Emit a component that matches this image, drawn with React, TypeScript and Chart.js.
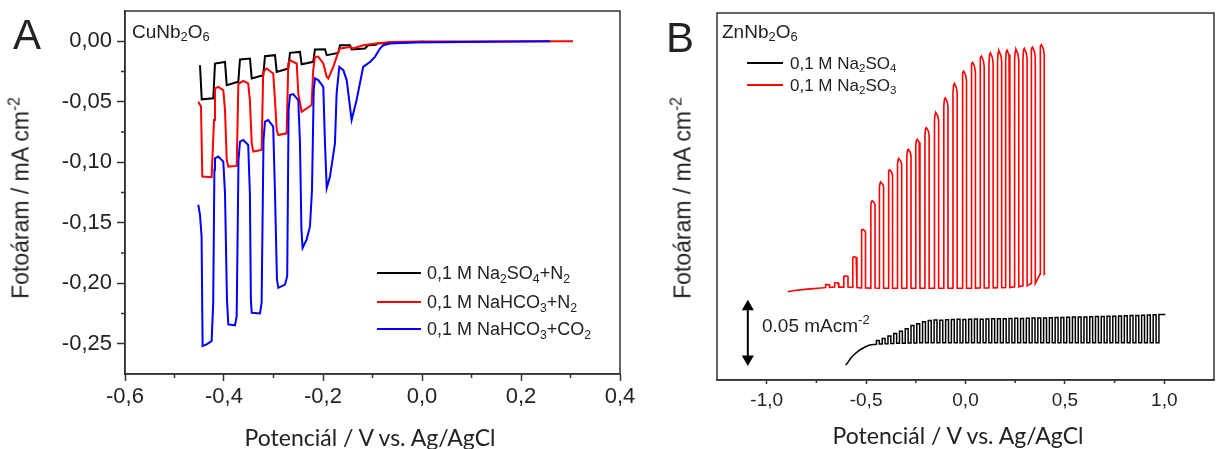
import React, { useEffect, useRef } from "react";
import { Chart, registerables } from "chart.js";
Chart.register(...registerables);

// ---------- Panel A (CuNb2O6) ----------
const cuXTicks = [-0.6, -0.4, -0.2, 0.0, 0.2, 0.4];
const cuXMinor = [-0.5, -0.3, -0.1, 0.1, 0.3];
const cuYTicks = [0.0, -0.05, -0.1, -0.15, -0.2, -0.25];
const cuYMinor = [-0.025, -0.075, -0.125, -0.175, -0.225];

const cuBlackSO4N2: [number, number][] = [
  [-0.4485, -0.0198], [-0.445, -0.048], [-0.4216, -0.0472], [-0.4182, -0.0184], [-0.398, -0.0171],
  [-0.3945, -0.0363], [-0.3711, -0.0335], [-0.3677, -0.0151], [-0.3475, -0.0143], [-0.344, -0.0307],
  [-0.3206, -0.028], [-0.3172, -0.0124], [-0.297, -0.0115], [-0.2935, -0.0253], [-0.2701, -0.0225],
  [-0.2667, -0.0096], [-0.2465, -0.0088], [-0.2432, -0.019], [-0.2198, -0.017], [-0.2162, -0.0068],
  [-0.196, -0.0066], [-0.1925, -0.0115], [-0.1691, -0.0096], [-0.1657, -0.0033], [-0.1455, -0.0033],
  [-0.142, -0.0068], [-0.1152, -0.006], [-0.109, -0.0033], [-0.093, -0.0029], [-0.0889, -0.0016],
  [-0.0687, -0.0016], [-0.0646, -0.0008], [-0.0242, -0.0008], [0.004, -0.0004],
];

const cuRedHCO3N2: [number, number][] = [
  [-0.452, -0.05], [-0.4465, -0.054], [-0.4438, -0.1118], [-0.425, -0.1123], [-0.4202, -0.065],
  [-0.4182, -0.039], [-0.4115, -0.0377], [-0.4014, -0.0404], [-0.398, -0.0569], [-0.3945, -0.098],
  [-0.3913, -0.1036], [-0.3743, -0.103], [-0.371, -0.0354], [-0.3677, -0.0344], [-0.3611, -0.0327],
  [-0.3511, -0.0349], [-0.3477, -0.0486], [-0.344, -0.0843], [-0.3408, -0.0912], [-0.324, -0.0898],
  [-0.3208, -0.0253], [-0.3139, -0.0225], [-0.3006, -0.0266], [-0.297, -0.0486], [-0.2935, -0.0733],
  [-0.2903, -0.0775], [-0.2735, -0.0761], [-0.2701, -0.0184], [-0.2667, -0.0157], [-0.2531, -0.0184],
  [-0.2499, -0.0431], [-0.2432, -0.0583], [-0.223, -0.0527], [-0.2198, -0.0239], [-0.2162, -0.0129],
  [-0.2095, -0.0129], [-0.1994, -0.0184], [-0.1925, -0.0294], [-0.1893, -0.0307], [-0.1792, -0.0212],
  [-0.1691, -0.0088], [-0.1657, -0.006], [-0.1455, -0.0047], [-0.1394, -0.006], [-0.1186, -0.0033],
  [-0.0915, -0.0019], [-0.0646, -0.0006], [-0.004, -0.0002], [0.305, 0.0],
];

const cuBlueHCO3CO2: [number, number][] = [
  [-0.452, -0.1351], [-0.4485, -0.1434], [-0.4453, -0.1613], [-0.4432, -0.2519], [-0.4352, -0.2505],
  [-0.425, -0.2478], [-0.4218, -0.2161], [-0.4194, -0.1063], [-0.4182, -0.0967], [-0.4115, -0.0953],
  [-0.4014, -0.0995], [-0.398, -0.1255], [-0.394, -0.2134], [-0.3913, -0.234], [-0.3778, -0.2348],
  [-0.3744, -0.2272], [-0.3707, -0.098], [-0.3677, -0.083], [-0.3611, -0.0816], [-0.3511, -0.0857],
  [-0.3477, -0.1255], [-0.3457, -0.2134], [-0.344, -0.2244], [-0.3273, -0.225], [-0.324, -0.2161],
  [-0.3202, -0.0816], [-0.3172, -0.0665], [-0.3107, -0.0651], [-0.3006, -0.0706], [-0.297, -0.1255],
  [-0.293, -0.1969], [-0.2903, -0.2038], [-0.2768, -0.2011], [-0.2723, -0.1942], [-0.2695, -0.0569],
  [-0.2667, -0.0445], [-0.2602, -0.0437], [-0.2499, -0.0486], [-0.2465, -0.0843], [-0.2436, -0.1557],
  [-0.2412, -0.1708], [-0.2331, -0.1639], [-0.2263, -0.153], [-0.2222, -0.1228], [-0.2188, -0.0404],
  [-0.2162, -0.0307], [-0.2095, -0.0321], [-0.1994, -0.0377], [-0.196, -0.0843], [-0.1925, -0.1214],
  [-0.1859, -0.1118], [-0.1758, -0.0843], [-0.1725, -0.0431], [-0.1671, -0.0212], [-0.159, -0.0239],
  [-0.1521, -0.0321], [-0.1422, -0.0651], [-0.1321, -0.0486], [-0.1188, -0.0212], [-0.1051, -0.0171],
  [-0.0951, -0.0129], [-0.0849, -0.006], [-0.0782, -0.0033], [-0.0646, -0.0019], [-0.0182, -0.0011],
  [0.0828, -0.0006], [0.2586, 0.0],
];

// ---------- Panel B (ZnNb2O6) ----------
const znXTicks = [-1.0, -0.5, 0.0, 0.5, 1.0];
const znXMinor = [-0.75, -0.25, 0.25, 0.75];

const znRedLead: [number, number][] = [
  [-0.894, 0.0688], [-0.86, 0.0697], [-0.82, 0.0705], [-0.78, 0.0711], [-0.74, 0.0716], [-0.715, 0.072],
];
const znRedOn = [
  -0.705, -0.658, -0.612, -0.567, -0.524, -0.476, -0.433, -0.388, -0.342, -0.295, -0.25, -0.204, -0.156,
  -0.109, -0.063, -0.016, 0.029, 0.073, 0.118, 0.161, 0.202, 0.247, 0.289, 0.33, 0.375,
];
const znRedTop = [
  0.0745, 0.076, 0.0814, 0.097, 0.119, 0.142, 0.157, 0.167, 0.176, 0.1835, 0.1916, 0.201, 0.213, 0.225,
  0.2367, 0.2466, 0.2536, 0.2587, 0.2614, 0.263, 0.2636, 0.264, 0.265, 0.266, 0.268,
];
const znRedBase = [
  0.0722, 0.0725, 0.0725, 0.0722, 0.0718, 0.0717, 0.0716, 0.0716, 0.0716, 0.0716, 0.0716, 0.0716, 0.0716,
  0.0716, 0.0716, 0.0716, 0.0717, 0.0718, 0.0719, 0.072, 0.0722, 0.0727, 0.0735, 0.0755, 0.083,
];
const znRedPulseWidth = 0.021;
const znRedTail: [number, number][] = [[0.401, 0.084]];

const znBlackLead: [number, number][] = [
  [-0.603, 0.0097], [-0.595, 0.011], [-0.577, 0.0153], [-0.553, 0.0191], [-0.532, 0.0218],
  [-0.503, 0.0244], [-0.482, 0.0258], [-0.462, 0.0262],
];
const znBlackOn = [
  -0.448, -0.419, -0.39, -0.361, -0.332, -0.303, -0.274, -0.245, -0.216, -0.187, -0.158, -0.129, -0.1,
  -0.071, -0.042, -0.013, 0.016, 0.045, 0.074, 0.103, 0.132, 0.161, 0.19, 0.219, 0.248, 0.277, 0.306,
  0.335, 0.364, 0.393, 0.422, 0.451, 0.48, 0.509, 0.538, 0.567, 0.596, 0.625, 0.654, 0.683, 0.712, 0.741,
  0.77, 0.799, 0.828, 0.857, 0.886, 0.915, 0.944, 0.973,
];
const znBlackTop = [
  0.0295, 0.031, 0.033, 0.035, 0.037, 0.039, 0.0415, 0.043, 0.0445, 0.0455, 0.046, 0.0458, 0.0462, 0.0463,
  0.0465, 0.0464, 0.0466, 0.0467, 0.0466, 0.0468, 0.0469, 0.047, 0.0469, 0.0471, 0.0473, 0.0472, 0.0474,
  0.0475, 0.0476, 0.0476, 0.0478, 0.0479, 0.048, 0.0481, 0.0483, 0.0483, 0.0484, 0.0486, 0.0487, 0.0488,
  0.049, 0.0491, 0.0493, 0.0494, 0.0496, 0.0497, 0.0499, 0.05, 0.0502, 0.0504,
];
const znBlackBase = [
  0.0264, 0.0266, 0.0268, 0.027, 0.0272, 0.0273, 0.0274, 0.0275, 0.0276, 0.0276, 0.0277, 0.0277, 0.0277,
  0.0277, 0.0277, 0.0277, 0.0277, 0.0277, 0.0277, 0.0277, 0.0277, 0.0277, 0.0277, 0.0277, 0.0277, 0.0277,
  0.0277, 0.0277, 0.0277, 0.0277, 0.0277, 0.0277, 0.0277, 0.0277, 0.0277, 0.0277, 0.0277, 0.0277, 0.0277,
  0.0277, 0.0277, 0.0277, 0.0277, 0.0277, 0.0277, 0.0277, 0.0277, 0.0277, 0.0277, 0.0277,
];
const znBlackPulseWidth = 0.0145;
const znBlackTail: [number, number][] = [[1.005, 0.0504]];

const scaleBarX = [-1.095, -1.095];
const scaleBarY = [0.0145, 0.0567];

// ---------- helpers ----------
const SANS = "'Liberation Sans', Arial, sans-serif";
const TITLE = "Lato, 'Open Sans', sans-serif";
const AXIS = "#333";

const toPts = (arr: [number, number][]) => arr.map(([x, y]) => ({ x, y }));

function redTeeth() {
  const pts = toPts(znRedLead);
  znRedOn.forEach((on, i) => {
    const b = znRedBase[i];
    const t = znRedTop[i];
    const h = t - b;
    const w = znRedPulseWidth;
    pts.push(
      { x: on, y: b },
      { x: on, y: b + 0.955 * h },
      { x: on + 0.003, y: b + 0.993 * h },
      { x: on + 0.007, y: t },
      { x: on + w - 0.004, y: t - 0.02 * h },
      { x: on + w, y: t - 0.045 * h },
      { x: on + w, y: b },
    );
  });
  return pts.concat(toPts(znRedTail));
}

function blackTeeth() {
  const pts = toPts(znBlackLead);
  const last = znBlackOn.length - 1;
  znBlackOn.forEach((on, i) => {
    const b = znBlackBase[i];
    const t = znBlackTop[i];
    pts.push({ x: on, y: b }, { x: on, y: t });
    if (i < last) pts.push({ x: on + znBlackPulseWidth, y: t }, { x: on + znBlackPulseWidth, y: znBlackBase[i + 1] });
  });
  return pts.concat(toPts(znBlackTail));
}

const fmt = (v: number, d: number) => {
  const s = Math.abs(v) < 1e-9 ? (0).toFixed(d) : v.toFixed(d);
  return s.replace(".", ",");
};

const framePlugin = (minorX: number[], minorY: number[], len: number) => ({
  id: "frameMinor",
  afterDraw(chart: any) {
    const { ctx, chartArea: a, scales } = chart;
    ctx.save();
    ctx.strokeStyle = AXIS;
    ctx.lineWidth = 1.5;
    ctx.strokeRect(a.left, a.top, a.right - a.left, a.bottom - a.top);
    ctx.beginPath();
    for (const v of minorX) {
      const p = scales.x.getPixelForValue(v);
      ctx.moveTo(p, a.bottom);
      ctx.lineTo(p, a.bottom + len);
    }
    for (const v of minorY) {
      const p = scales.y.getPixelForValue(v);
      ctx.moveTo(a.left, p);
      ctx.lineTo(a.left - len, p);
    }
    ctx.stroke();
    ctx.restore();
  },
});

const line = (data: any[], color: string, width: number) => ({
  data,
  showLine: true,
  borderColor: color,
  backgroundColor: color,
  borderWidth: width,
  pointRadius: 0,
  tension: 0,
  fill: false,
});

function configA(): any {
  return {
    type: "scatter",
    data: {
      datasets: [
        line(toPts(cuBlueHCO3CO2), "#0000ff", 2),
        line(toPts(cuRedHCO3N2), "#ff0000", 2),
        line(toPts(cuBlackSO4N2), "#000000", 2),
      ],
    },
    options: {
      animation: false,
      responsive: false,
      devicePixelRatio: 1,
      layout: { padding: { left: 0, top: 11, right: 40, bottom: 0 } },
      plugins: { legend: { display: false }, tooltip: { enabled: false } },
      scales: {
        x: {
          type: "linear",
          min: -0.6,
          max: 0.4,
          afterBuildTicks: (s: any) => { s.ticks = cuXTicks.map((v) => ({ value: v })); },
          afterFit: (s: any) => { s.height = 75; s.paddingLeft = 0; s.paddingRight = 0; },
          ticks: { callback: (v: number) => fmt(v, 1), font: { family: SANS, size: 22 }, color: "#222", padding: 3, maxRotation: 0, autoSkip: false },
          grid: { drawOnChartArea: false, drawTicks: true, tickLength: 7, tickWidth: 1.5, tickColor: AXIS },
          border: { display: true, color: AXIS, width: 1.5 },
        },
        y: {
          type: "linear",
          min: -0.275,
          max: 0.025,
          afterBuildTicks: (s: any) => { s.ticks = cuYTicks.map((v) => ({ value: v })); },
          afterFit: (s: any) => { s.width = 125; s.paddingTop = 0; s.paddingBottom = 0; },
          ticks: { callback: (v: number) => fmt(v, 2), font: { family: SANS, size: 22 }, color: "#222", padding: 5, autoSkip: false },
          grid: { drawOnChartArea: false, drawTicks: true, tickLength: 8, tickWidth: 1.5, tickColor: AXIS },
          border: { display: true, color: AXIS, width: 1.5 },
        },
      },
    },
    plugins: [framePlugin(cuXMinor, cuYMinor, 4)],
  };
}

function configB(): any {
  return {
    type: "scatter",
    data: {
      datasets: [
        line(redTeeth(), "#ff0000", 1.6),
        line(blackTeeth(), "#000000", 1.5),
        {
          data: scaleBarX.map((x, i) => ({ x, y: scaleBarY[i] })),
          showLine: true,
          borderColor: "#000",
          backgroundColor: "#000",
          borderWidth: 2,
          pointStyle: "triangle",
          pointRadius: 5,
          rotation: [180, 0],
        },
      ],
    },
    options: {
      animation: false,
      responsive: false,
      devicePixelRatio: 1,
      layout: { padding: { left: 77, top: 13, right: 2, bottom: 0 } },
      plugins: { legend: { display: false }, tooltip: { enabled: false } },
      scales: {
        x: {
          type: "linear",
          min: -1.25,
          max: 1.25,
          afterBuildTicks: (s: any) => { s.ticks = znXTicks.map((v) => ({ value: v })); },
          afterFit: (s: any) => { s.height = 69; s.paddingLeft = 0; s.paddingRight = 0; },
          ticks: { callback: (v: number) => fmt(v, 1), font: { family: SANS, size: 19 }, color: "#222", padding: 5, maxRotation: 0, autoSkip: false },
          grid: { drawOnChartArea: false, drawTicks: true, tickLength: 4, tickWidth: 1.5, tickColor: AXIS },
          border: { display: true, color: AXIS, width: 1.5 },
        },
        y: { type: "linear", min: -0.0024, max: 0.2935, display: false },
      },
    },
    plugins: [framePlugin(znXMinor, [], 3)],
  };
}

const sub = (t: string) => <sub style={{ fontSize: "0.68em", verticalAlign: "-0.3em", lineHeight: 0 }}>{t}</sub>;
const sup = (t: string) => <sup style={{ fontSize: "0.68em", verticalAlign: "0.55em", lineHeight: 0 }}>{t}</sup>;

function Txt(props: { x: number; y: number; size: number; font?: string; children: any; center?: boolean; rotate?: boolean }) {
  const { x, y, size, font, children, center, rotate } = props;
  let transform = "translateY(-50%)";
  if (center) transform = "translate(-50%, -50%)";
  if (rotate) transform = "translate(-50%, -50%) rotate(-90deg)";
  return (
    <div style={{ position: "absolute", left: x, top: y, fontSize: size, fontFamily: font || SANS, lineHeight: 1, whiteSpace: "nowrap", transform, color: "#222" }}>
      {children}
    </div>
  );
}

function LegendLine(props: { x: number; y: number; w: number; color: string; h: number }) {
  return <div style={{ position: "absolute", left: props.x, top: props.y - props.h / 2, width: props.w, height: props.h, background: props.color }} />;
}

export default function App() {
  const refA = useRef<HTMLCanvasElement>(null);
  const refB = useRef<HTMLCanvasElement>(null);
  useEffect(() => {
    const a = new Chart(refA.current as HTMLCanvasElement, configA());
    const b = new Chart(refB.current as HTMLCanvasElement, configB());
    return () => {
      a.destroy();
      b.destroy();
    };
  }, []);
  return (
    <div style={{ position: "fixed", left: 0, top: 0, width: 1221, height: 449, background: "#fff", overflow: "hidden" }}>
      <canvas ref={refA} width={660} height={449} style={{ position: "absolute", left: 0, top: 0, width: 660, height: 449 }} />
      <canvas ref={refB} width={581} height={449} style={{ position: "absolute", left: 640, top: 0, width: 581, height: 449 }} />

      {/* Panel A texts */}
      <Txt x={13} y={35} size={42}>A</Txt>
      <Txt x={132} y={31} size={19}>CuNb{sub("2")}O{sub("6")}</Txt>
      <Txt x={21} y={198} size={23} rotate>Fotoáram / mA cm{sup("-2")}</Txt>
      <Txt x={370} y={437} size={23} font={TITLE} center>Potenciál / V vs. Ag/AgCl</Txt>
      <LegendLine x={377} y={273} w={44} h={2} color="#000" />
      <LegendLine x={377} y={302} w={44} h={2} color="#ff0000" />
      <LegendLine x={377} y={329} w={44} h={2} color="#0000ff" />
      <Txt x={427} y={273} size={18}>0,1 M Na{sub("2")}SO{sub("4")}+N{sub("2")}</Txt>
      <Txt x={427} y={302} size={18}>0,1 M NaHCO{sub("3")}+N{sub("2")}</Txt>
      <Txt x={427} y={329} size={18}>0,1 M NaHCO{sub("3")}+CO{sub("2")}</Txt>

      {/* Panel B texts */}
      <Txt x={666} y={38} size={42}>B</Txt>
      <Txt x={722} y={31} size={19}>ZnNb{sub("2")}O{sub("6")}</Txt>
      <Txt x={683} y={198} size={23} rotate>Fotoáram / mA cm{sup("-2")}</Txt>
      <Txt x={958} y={435} size={23} font={TITLE} center>Potenciál / V vs. Ag/AgCl</Txt>
      <LegendLine x={747} y={63} w={36} h={2} color="#000" />
      <LegendLine x={747} y={85} w={36} h={2} color="#ff0000" />
      <Txt x={790} y={63} size={17}>0,1 M Na{sub("2")}SO{sub("4")}</Txt>
      <Txt x={790} y={85} size={17}>0,1 M Na{sub("2")}SO{sub("3")}</Txt>
      <Txt x={762} y={325} size={19}>0.05 mAcm{sup("-2")}</Txt>
    </div>
  );
}
